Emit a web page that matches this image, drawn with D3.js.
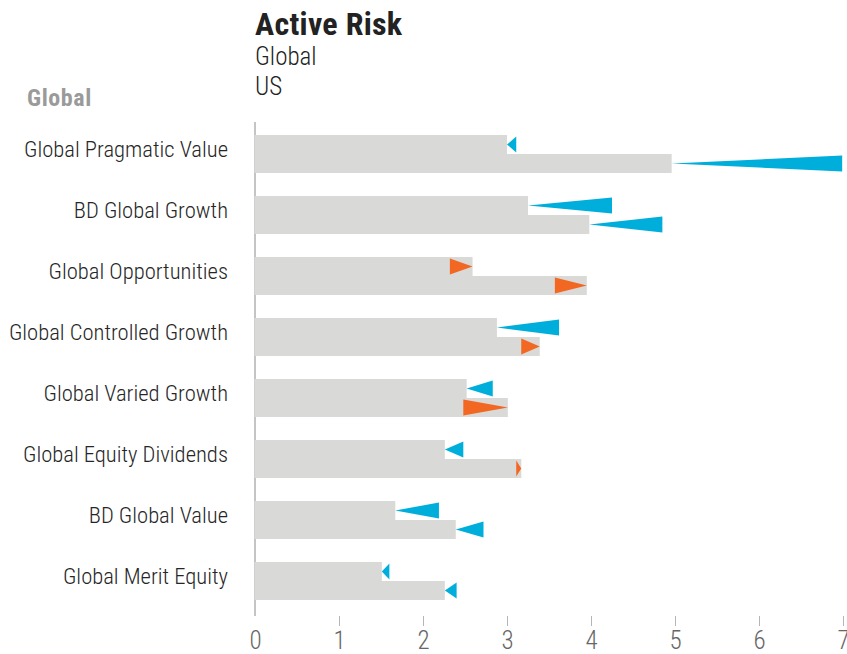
<!DOCTYPE html>
<html>
<head>
<meta charset="utf-8">
<script src="https://cdn.jsdelivr.net/npm/d3@7"></script>
<style>
  html, body { margin: 0; padding: 0; background: #fff; }
  svg text { font-family: 'Roboto Condensed', 'Liberation Sans Narrow', 'Arial Narrow', 'DejaVu Sans Condensed', Roboto, sans-serif; font-stretch: condensed; }
</style>
</head>
<body>
<svg id="chart" width="847" height="654"></svg>
<script>
const title = "Active Risk";
const seriesNames = ["Global", "US"];
const groupLabel = "Global";
const categories = [
  "Global Pragmatic Value",
  "BD Global Growth",
  "Global Opportunities",
  "Global Controlled Growth",
  "Global Varied Growth",
  "Global Equity Dividends",
  "BD Global Value",
  "Global Merit Equity"
];
const globalCurrent = [3.00, 3.25, 2.59, 2.88, 2.52, 2.26, 1.67, 1.51];
const globalPrior   = [3.11, 4.25, 2.32, 3.62, 2.83, 2.48, 2.19, 1.60];
const usCurrent     = [4.96, 3.98, 3.95, 3.39, 3.01, 3.17, 2.39, 2.26];
const usPrior       = [6.99, 4.85, 3.57, 3.17, 2.48, 3.11, 2.72, 2.40];
const tickValues = [0, 1, 2, 3, 4, 5, 6, 7];

const rows = [];
categories.forEach((c, i) => {
  rows.push({cat: c, series: "Global", cur: globalCurrent[i], prior: globalPrior[i]});
  rows.push({cat: c, series: "US", cur: usCurrent[i], prior: usPrior[i]});
});

const svg = d3.select("#chart");
const x = d3.scaleLinear().domain([0, 7]).range([255, 843]);
const y = d3.scaleBand().domain(categories).range([123.5, 611.5])
  .paddingInner(23 / 61).paddingOuter(23 / 122);
const ySub = d3.scaleBand().domain(seriesNames).range([0, y.bandwidth()]);

const BLUE = "#00aedb", ORANGE = "#f26722", BAR = "#d9d9d7";

// vertical zero axis line
svg.append("line")
  .attr("x1", x(0)).attr("x2", x(0))
  .attr("y1", 122).attr("y2", 616)
  .attr("stroke", "#8a8a8a").attr("stroke-width", 1);

// bars
svg.append("g").selectAll("rect").data(rows).join("rect")
  .attr("x", x(0) - 0.5)
  .attr("y", d => y(d.cat) + ySub(d.series))
  .attr("width", d => x(d.cur) - x(0) + 0.5)
  .attr("height", ySub.bandwidth())
  .attr("fill", BAR);

// triangles: tip at current value, base at prior value
const triH = 16;
svg.append("g").selectAll("path").data(rows).join("path")
  .attr("d", d => {
    const cy = y(d.cat) + ySub(d.series) + ySub.bandwidth() / 2;
    const p = d3.path();
    p.moveTo(x(d.cur), cy);
    p.lineTo(x(d.prior), cy - triH / 2);
    p.lineTo(x(d.prior), cy + triH / 2);
    p.closePath();
    return p.toString();
  })
  .attr("fill", d => d.prior >= d.cur ? BLUE : ORANGE);

// category labels
svg.append("g").selectAll("text").data(categories).join("text")
  .attr("x", 228)
  .attr("y", d => y(d) + y.bandwidth() / 2 - 4)
  .attr("dy", "0.3em")
  .attr("text-anchor", "end")
  .attr("font-size", 22.6)
  .attr("font-weight", 300)
  .attr("fill", "#262626")
  .text(d => d);

// x axis
const axis = d3.axisBottom(x).tickValues(tickValues).tickSize(10).tickPadding(5).tickFormat(d3.format("d"));
const ag = svg.append("g").attr("transform", "translate(0,616)").call(axis);
ag.select(".domain").remove();
ag.selectAll(".tick line").attr("stroke", "#b5b5b5").attr("stroke-width", 1)
  .attr("opacity", d => d === 0 ? 0 : 1);
ag.selectAll(".tick text").attr("font-size", 25).attr("font-weight", 300).attr("fill", "#666")
  .style("font-family", null);

// title and legend text
svg.append("text").attr("x", 255).attr("y", 35)
  .attr("font-size", 32).attr("font-weight", "bold").attr("letter-spacing", 0.3)
  .attr("fill", "#222").text(title);
svg.append("g").selectAll("text").data(seriesNames).join("text")
  .attr("x", 255).attr("y", (d, i) => 65 + i * 30)
  .attr("font-size", 25).attr("font-weight", 300).attr("fill", "#222").text(d => d);
svg.append("text").attr("x", 27).attr("y", 106)
  .attr("font-size", 24).attr("font-weight", "bold").attr("letter-spacing", 0.6)
  .attr("fill", "#9a9a9a").text(groupLabel);
</script>
</body>
</html>
